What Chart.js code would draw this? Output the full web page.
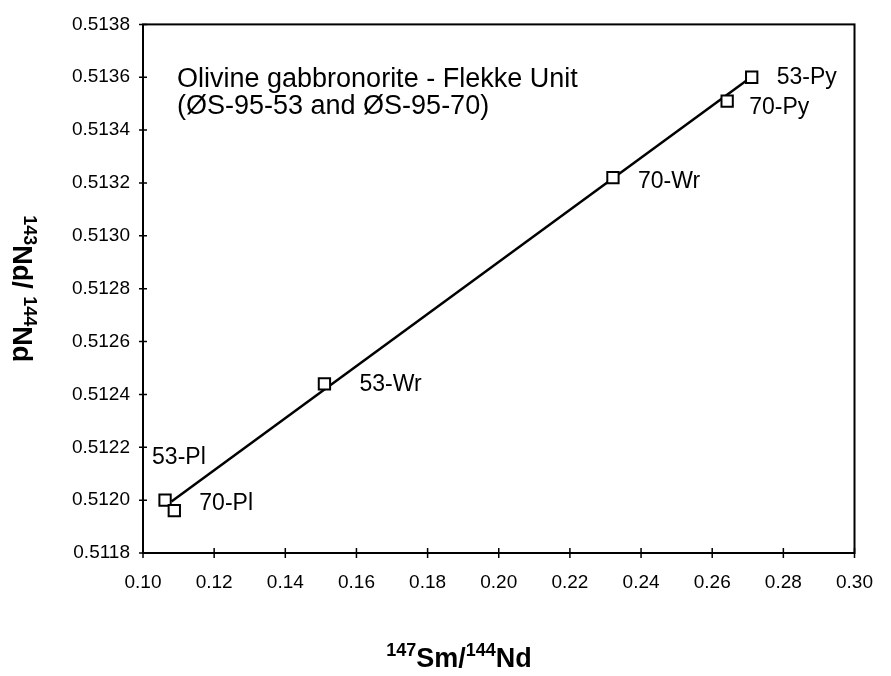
<!DOCTYPE html>
<html>
<head>
<meta charset="utf-8">
<script src="https://cdn.jsdelivr.net/npm/chart.js@4/dist/chart.umd.min.js"></script>
<style>
  html, body { margin: 0; padding: 0; background: #fff; }
  #wrap { width: 891px; height: 676px; }
</style>
</head>
<body>
<div id="wrap"><canvas id="c" width="891" height="676"></canvas></div>
<script>
// ---- data ----
const sampleLabels = ["53-Pl", "70-Pl", "53-Wr", "70-Wr", "70-Py", "53-Py"];
const smNd = [0.1062, 0.1088, 0.1510, 0.2321, 0.2642, 0.2711];
const ndNd = [0.51200, 0.51196, 0.51244, 0.51322, 0.51351, 0.51360];
const isochronX = [0.1080, 0.2711];
const isochronY = [0.511995, 0.513602];
const xTicks = [0.10, 0.12, 0.14, 0.16, 0.18, 0.20, 0.22, 0.24, 0.26, 0.28, 0.30];
const yTicks = [0.5118, 0.5120, 0.5122, 0.5124, 0.5126, 0.5128, 0.5130, 0.5132, 0.5134, 0.5136, 0.5138];
const titleLines = ["Olivine gabbronorite - Flekke Unit", "(ØS-95-53 and ØS-95-70)"];

// ---- style (label offsets in px from each point) ----
const labelOffsets = [[-13, -42], [25, -7], [35, 1], [25, 4], [22, 7], [25, 0]];
const FONT = '"Liberation Sans", Arial, Helvetica, sans-serif';

const points = smNd.map((x, i) => ({ x: x, y: ndNd[i] }));
const linePts = isochronX.map((x, i) => ({ x: x, y: isochronY[i] }));

function drawSupText(ctx, parts, x, y, mainSize, supSize, supRise) {
  let cx = x;
  for (const [t, sup] of parts) {
    ctx.font = 'bold ' + (sup ? supSize : mainSize) + 'px ' + FONT;
    ctx.fillText(t, cx, sup ? y - supRise : y);
    cx += ctx.measureText(t).width;
  }
  return cx - x;
}
function measureSup(ctx, parts, mainSize, supSize) {
  let w = 0;
  for (const [t, sup] of parts) {
    ctx.font = 'bold ' + (sup ? supSize : mainSize) + 'px ' + FONT;
    w += ctx.measureText(t).width;
  }
  return w;
}

const decor = {
  id: 'decor',
  afterDraw(chart) {
    const ctx = chart.ctx;
    const a = chart.chartArea;
    const xs = chart.scales.x, ys = chart.scales.y;
    ctx.save();
    ctx.strokeStyle = '#000';
    ctx.fillStyle = '#000';
    ctx.lineWidth = 2;
    ctx.strokeRect(a.left, a.top, a.right - a.left, a.bottom - a.top);
    ctx.lineWidth = 1.5;
    ctx.beginPath();
    xTicks.forEach(v => {
      const px = xs.getPixelForValue(v);
      ctx.moveTo(px, a.bottom - 5); ctx.lineTo(px, a.bottom + 5);
    });
    yTicks.forEach(v => {
      const py = ys.getPixelForValue(v);
      ctx.moveTo(a.left - 4, py); ctx.lineTo(a.left + 4, py);
    });
    ctx.stroke();

    // point labels
    ctx.font = '23px ' + FONT;
    ctx.textAlign = 'left';
    ctx.textBaseline = 'middle';
    sampleLabels.forEach((lab, i) => {
      const px = xs.getPixelForValue(smNd[i]) + labelOffsets[i][0];
      const py = ys.getPixelForValue(ndNd[i]) + labelOffsets[i][1];
      ctx.fillText(lab, px, py);
    });

    // annotation title
    ctx.font = '27px ' + FONT;
    ctx.textBaseline = 'middle';
    titleLines.forEach((t, i) => {
      ctx.fillText(t, a.left + 34, a.top + 55 + i * 26.7);
    });

    // x axis title
    ctx.textBaseline = 'alphabetic';
    const xParts = [["147", true], ["Sm/", false], ["144", true], ["Nd", false]];
    const xw = measureSup(ctx, xParts, 27, 18);
    drawSupText(ctx, xParts, 459 - xw / 2, 667, 27, 18, 11);

    // y axis title (rotated clockwise)
    const yParts = [["143", true], ["Nd/ ", false], ["144", true], ["Nd", false]];
    const yw = measureSup(ctx, yParts, 27, 18);
    const cy = (a.top + a.bottom) / 2;
    ctx.translate(13, cy - yw / 2);
    ctx.rotate(Math.PI / 2);
    drawSupText(ctx, yParts, 0, 0, 27, 18, 11);
    ctx.restore();
  }
};

new Chart(document.getElementById('c'), {
  type: 'scatter',
  data: {
    datasets: [
      {
        data: points,
        showLine: false,
        pointStyle: 'rect',
        pointRadius: 8,
        pointBorderWidth: 2,
        pointBorderColor: '#000',
        pointBackgroundColor: '#fff',
      },
      {
        data: linePts,
        showLine: true,
        borderColor: '#000',
        borderWidth: 2.5,
        pointRadius: 0,
        fill: false,
      }
    ]
  },
  options: {
    responsive: false,
    animation: false,
    devicePixelRatio: 1,
    layout: { padding: { left: 0, top: 20, right: 21, bottom: 0 } },
    plugins: { legend: { display: false }, tooltip: { enabled: false }, title: { display: false } },
    scales: {
      x: {
        type: 'linear',
        min: 0.10, max: 0.30,
        afterBuildTicks: s => { s.ticks = xTicks.map(v => ({ value: v })); },
        afterFit: s => { s.height = 123; },
        grid: { display: false, drawTicks: false },
        border: { display: false },
        ticks: {
          padding: 18,
          color: '#000',
          font: { family: FONT, size: 19 },
          maxRotation: 0,
          callback: v => Number(v).toFixed(2)
        }
      },
      y: {
        type: 'linear',
        min: 0.5118, max: 0.5138,
        afterBuildTicks: s => { s.ticks = yTicks.map(v => ({ value: v })); },
        afterFit: s => { s.width = 143; },
        grid: { display: false, drawTicks: false },
        border: { display: false },
        ticks: {
          padding: 13,
          color: '#000',
          font: { family: FONT, size: 19 },
          callback: v => Number(v).toFixed(4)
        }
      }
    }
  },
  plugins: [decor]
});
</script>
</body>
</html>
